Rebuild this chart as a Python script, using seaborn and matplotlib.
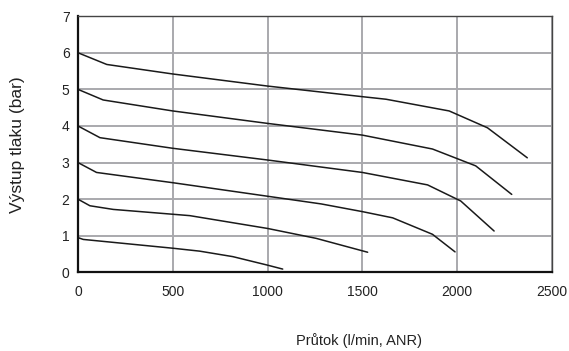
import numpy as np
import pandas as pd
import matplotlib
matplotlib.use("Agg")
import matplotlib.pyplot as plt
import seaborn as sns

# flow (l/min, ANR) and outlet pressure (bar) for each set pressure curve
flow_1 = [0, 28, 500, 642, 817, 998, 1080]
press_1 = [0.95, 0.90, 0.66, 0.58, 0.43, 0.20, 0.09]

flow_2 = [0, 63, 186, 590, 1000, 1256, 1528]
press_2 = [2.0, 1.82, 1.72, 1.55, 1.20, 0.93, 0.55]

flow_3 = [0, 98, 500, 1000, 1283, 1500, 1660, 1870, 1989]
press_3 = [3.0, 2.73, 2.45, 2.08, 1.87, 1.66, 1.49, 1.04, 0.56]

flow_4 = [0, 116, 500, 1000, 1500, 1844, 2019, 2195]
press_4 = [4.0, 3.68, 3.39, 3.07, 2.73, 2.39, 1.95, 1.13]

flow_5 = [0, 133, 500, 1000, 1500, 1870, 2098, 2288]
press_5 = [5.0, 4.71, 4.41, 4.07, 3.75, 3.37, 2.91, 2.13]

flow_6 = [0, 152, 500, 1000, 1500, 1625, 1958, 2160, 2370]
press_6 = [6.0, 5.68, 5.42, 5.09, 4.80, 4.73, 4.41, 3.95, 3.13]

curves = {
    "1": (flow_1, press_1),
    "2": (flow_2, press_2),
    "3": (flow_3, press_3),
    "4": (flow_4, press_4),
    "5": (flow_5, press_5),
    "6": (flow_6, press_6),
}

x_ticks = [0, 500, 1000, 1500, 2000, 2500]
y_ticks = [0, 1, 2, 3, 4, 5, 6, 7]

rows = []
for name, (fx, py) in curves.items():
    for a, b in zip(fx, py):
        rows.append({"curve": name, "flow": a, "pressure": b})
df = pd.DataFrame(rows)

sns.set_style("white")
plt.rcParams['font.family'] = ['Liberation Sans', 'DejaVu Sans']

fig = plt.figure(figsize=(5.69, 3.51), dpi=100)
ax = fig.add_axes([0.137, 0.224, 0.833, 0.730])

sns.lineplot(data=df, x="flow", y="pressure", hue="curve", sort=False,
             palette=["#1a1a1a"] * 6, linewidth=1.1, legend=False, ax=ax)

ax.set_xlim(0, 2500)
ax.set_ylim(0, 7)
ax.set_xticks(x_ticks)
ax.set_yticks(y_ticks)
ax.grid(True, color="#a9a9ad", linewidth=1.4)
ax.set_axisbelow(True)

for side in ["left", "bottom"]:
    ax.spines[side].set_color("#111111")
    ax.spines[side].set_linewidth(1.6)
for side in ["top", "right"]:
    ax.spines[side].set_color("#444444")
    ax.spines[side].set_linewidth(1.0)

ax.tick_params(axis="x", direction="in", length=4, width=1.4, color="#111111",
               labelsize=10, pad=9, labelcolor="#222222")
ax.tick_params(axis="y", direction="in", length=0, labelsize=10, pad=6,
               labelcolor="#222222")

ax.set_xlabel("Průtok (l/min, ANR)", fontsize=10.5, color="#222222", va="center")
ax.set_ylabel("Výstup tlaku (bar)", fontsize=12.5, color="#222222", va="center")
# the x title sits right of centre in the original
ax.xaxis.set_label_coords(0.593, -0.266)
ax.yaxis.set_label_coords(-0.127, 0.5)

fig.savefig("out.png", dpi=100)
